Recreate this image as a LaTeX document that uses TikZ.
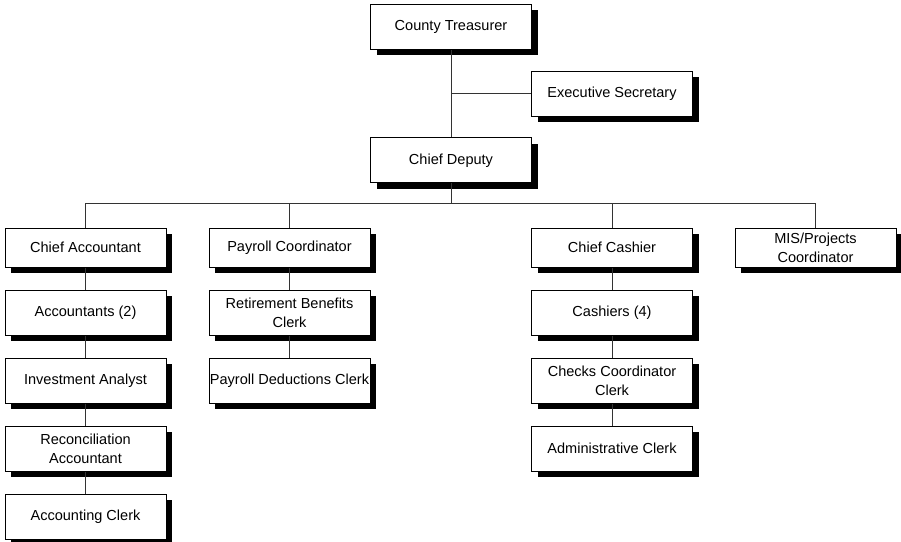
\documentclass[tikz,border=0pt]{standalone}
\usepackage{fontspec}
\setmainfont{Liberation Sans}
\usetikzlibrary{positioning,shadows}

\begin{document}
\begin{tikzpicture}[
    x=0.75pt, y=0.75pt,
    node distance=16.5pt,
    every node/.style={font=\fontsize{10.9}{14.5}\selectfont},
    post/.style={rectangle, draw=black, line width=0.75pt, fill=white, align=center,
        minimum width=120.75pt, minimum height=33.75pt, inner xsep=0.5pt, inner ysep=1pt,
        drop shadow={shadow xshift=4.5pt, shadow yshift=-4.5pt, fill=black, opacity=1}},
    head/.style={post, minimum height=29.25pt},
    link/.style={draw=black!80, line width=0.75pt}
]
\useasboundingbox (0,0) rectangle (901,-542);

% top of the office
\node[post] (treas) at (451,-27) {County Treasurer};
\node[post] (secr) at (612,-94) {Executive Secretary};
\node[post] (deputy) at (451,-160.5) {Chief Deputy};

% division heads
\node[head] (chacc) at (85.5,-247.5) {Chief Accountant};
\node[head] (payco) at (289.5,-247.5) {Payroll Coordinator};
\node[head] (chcash) at (612,-247.5) {Chief Cashier};
\node[head] (mis) at (815.5,-247.5) {MIS/Projects\\Coordinator};

% staff under each head
\node[post, below=of chacc] (accts) {Accountants (2)};
\node[post, below=of accts] (invest) {Investment Analyst};
\node[post, below=of invest] (recon) {Reconciliation\\Accountant};
\node[post, below=of recon] (clerk) {Accounting Clerk};

\node[post, below=of payco] (retire) {Retirement Benefits\\Clerk};
\node[post, below=of retire] (deduct) {Payroll Deductions Clerk};

\node[post, below=of chcash] (cashiers) {Cashiers (4)};
\node[post, below=of cashiers] (checks) {Checks Coordinator\\Clerk};
\node[post, below=of checks] (admin) {Administrative Clerk};

% reporting lines
\draw[link] (treas.south) -- (deputy.north);
\draw[link] (treas.south |- secr.west) -- (secr.west);

\path (deputy.south) ++(0,-20) coordinate (bus);
\draw[link] (deputy.south) -- (bus);
\draw[link] (chacc.north) |- (bus) -| (mis.north);
\draw[link] (payco.north) -- (payco.north |- bus);
\draw[link] (chcash.north) -- (chcash.north |- bus);

\foreach \a/\b in {chacc/accts, accts/invest, invest/recon, recon/clerk,
                   payco/retire, retire/deduct,
                   chcash/cashiers, cashiers/checks, checks/admin}
    \draw[link] (\a) -- (\b);

\end{tikzpicture}
\end{document}
